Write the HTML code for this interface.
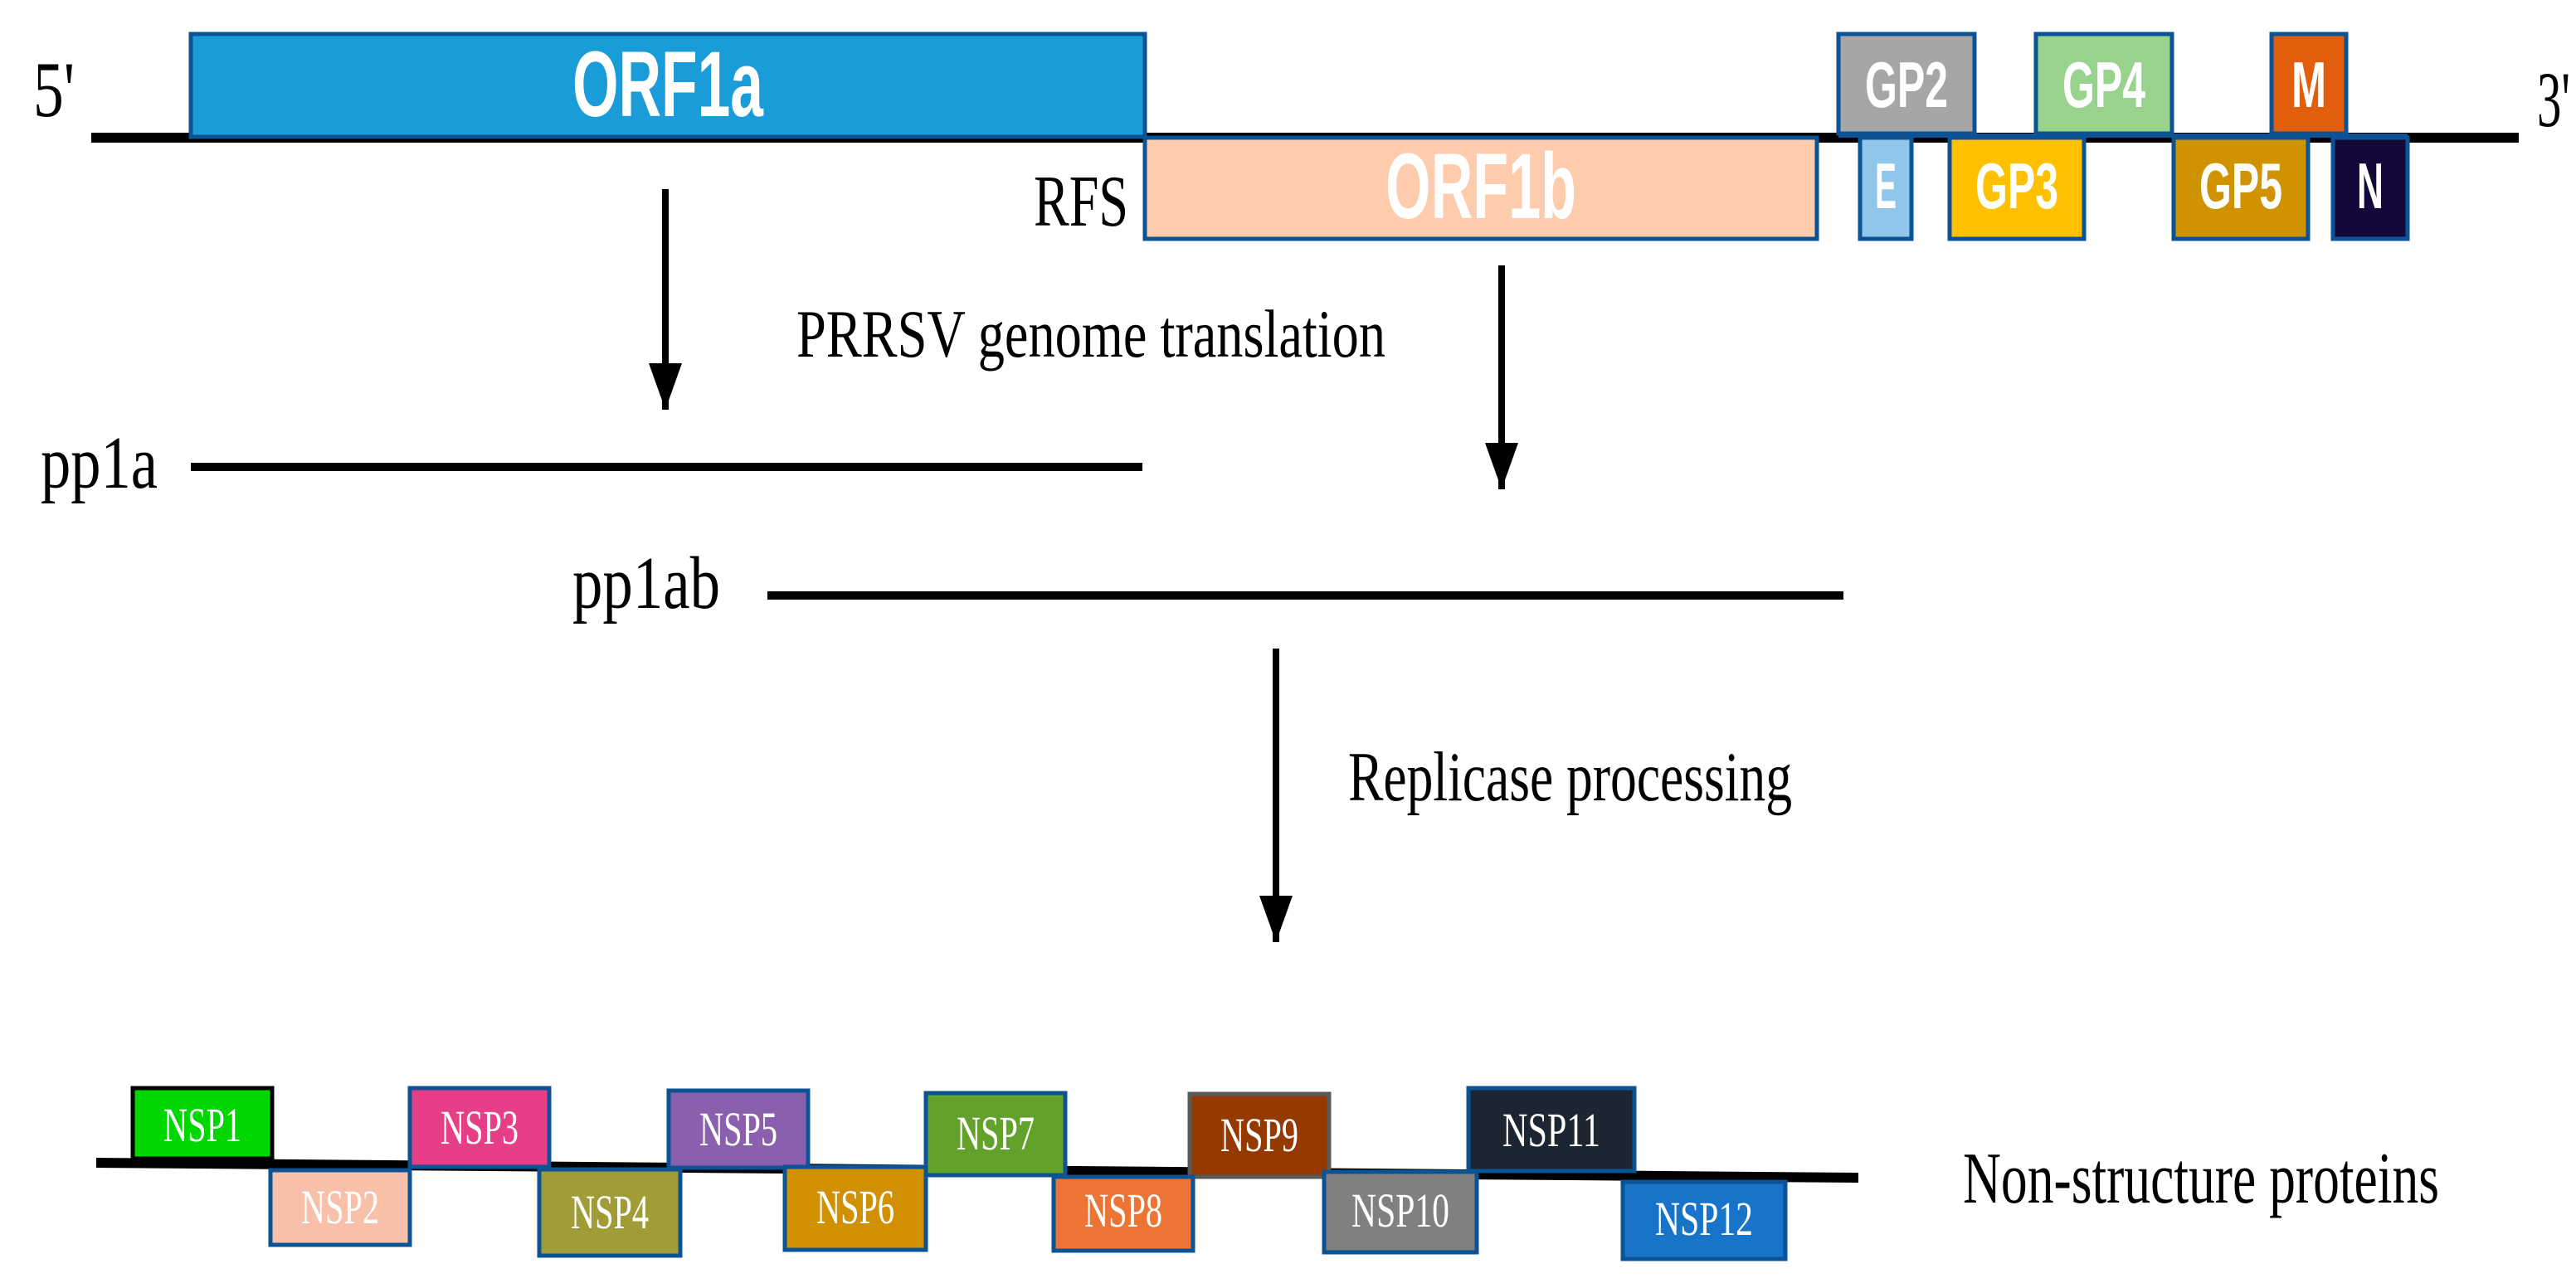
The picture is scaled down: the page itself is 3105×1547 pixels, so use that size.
<!DOCTYPE html>
<html><head><meta charset="utf-8"><style>html,body{margin:0;padding:0;background:#fff}svg{display:block}</style></head>
<body>
<svg width="3105" height="1547" viewBox="0 0 3105 1547" xmlns="http://www.w3.org/2000/svg">
<g font-family="Liberation Serif, serif">
<rect x="110" y="160" width="2926" height="12" fill="#000"/>
<text x="40" y="140" font-size="95" textLength="50" lengthAdjust="spacingAndGlyphs">5'</text>
<text x="3058" y="152" font-size="95" textLength="40" lengthAdjust="spacingAndGlyphs">3'</text>

<g stroke="#0b5394" stroke-width="5">
<rect x="230" y="41" width="1150" height="124" fill="#1a9cd8"/>
<rect x="1380" y="166" width="810" height="122" fill="#fdccac"/>
<rect x="2216" y="41" width="164" height="120" fill="#a6a6a6"/>
<rect x="2454" y="41" width="164" height="120" fill="#99d28c"/>
<rect x="2738" y="41" width="90" height="120" fill="#e05e0c"/>
<rect x="2216" y="161" width="686" height="5" fill="#0b5394" stroke="none"/>
<rect x="2242" y="166" width="62" height="122" fill="#90c6ea"/>
<rect x="2350" y="166" width="162" height="122" fill="#ffc000"/>
<rect x="2620" y="166" width="162" height="122" fill="#cf9200"/>
<rect x="2812" y="166" width="90" height="122" fill="#14083a"/>
</g>
<g font-family="Liberation Sans, sans-serif" font-weight="bold" fill="#fff" text-anchor="middle">
<text x="805" y="140" font-size="112" textLength="230" lengthAdjust="spacingAndGlyphs">ORF1a</text>
<text x="1785" y="263" font-size="112" textLength="230" lengthAdjust="spacingAndGlyphs">ORF1b</text>
<text x="2298" y="129" font-size="78" textLength="100" lengthAdjust="spacingAndGlyphs">GP2</text>
<text x="2536" y="129" font-size="78" textLength="100" lengthAdjust="spacingAndGlyphs">GP4</text>
<text x="2783" y="129" font-size="78" textLength="42" lengthAdjust="spacingAndGlyphs">M</text>
<text x="2273" y="251" font-size="78" textLength="26" lengthAdjust="spacingAndGlyphs">E</text>
<text x="2431" y="251" font-size="78" textLength="100" lengthAdjust="spacingAndGlyphs">GP3</text>
<text x="2701" y="251" font-size="78" textLength="100" lengthAdjust="spacingAndGlyphs">GP5</text>
<text x="2857" y="251" font-size="78" textLength="32" lengthAdjust="spacingAndGlyphs">N</text>
</g>
<text x="1246" y="272" font-size="88" textLength="114" lengthAdjust="spacingAndGlyphs">RFS</text>

<line x1="802" y1="228" x2="802" y2="494" stroke="#000" stroke-width="8"/>
<path d="M782,438 L822,438 L802,494 Z" fill="#000"/>
<line x1="1810" y1="320" x2="1810" y2="590" stroke="#000" stroke-width="8"/>
<path d="M1790,534 L1830,534 L1810,590 Z" fill="#000"/>
<line x1="1538" y1="782" x2="1538" y2="1136" stroke="#000" stroke-width="8"/>
<path d="M1518,1080 L1558,1080 L1538,1136 Z" fill="#000"/>

<text x="960" y="430" font-size="82" textLength="710" lengthAdjust="spacingAndGlyphs">PRRSV genome translation</text>
<text x="49" y="588" font-size="90" textLength="141" lengthAdjust="spacingAndGlyphs">pp1a</text>
<rect x="230" y="558" width="1147" height="10" fill="#000"/>
<text x="690" y="733" font-size="90" textLength="178" lengthAdjust="spacingAndGlyphs">pp1ab</text>
<rect x="925" y="713" width="1297" height="10" fill="#000"/>
<text x="1625" y="965" font-size="85" textLength="535" lengthAdjust="spacingAndGlyphs">Replicase processing</text>

<path d="M116,1396 L2240,1414 L2240,1426 L116,1408 Z" fill="#000"/>
<g stroke="#0b5394" stroke-width="5">
<rect x="160" y="1312" width="168" height="85" fill="#00d700" stroke="#000"/>
<rect x="494" y="1312" width="168" height="95" fill="#e63f87"/>
<rect x="806" y="1315" width="168" height="93" fill="#8a5fae"/>
<rect x="1116" y="1318" width="168" height="99" fill="#62a12a"/>
<rect x="1434" y="1319" width="168" height="100" fill="#943a00" stroke="#595959"/>
<rect x="1770" y="1312" width="200" height="100" fill="#1b2632"/>
<rect x="326" y="1411" width="168" height="90" fill="#f8c0a8"/>
<rect x="650" y="1410" width="170" height="104" fill="#a09c38"/>
<rect x="946" y="1407" width="170" height="100" fill="#d09000"/>
<rect x="1270" y="1419" width="168" height="89" fill="#ec7434"/>
<rect x="1596" y="1413" width="184" height="97" fill="#808080"/>
<rect x="1956" y="1425" width="196" height="93" fill="#1874c8"/>
</g>
<g fill="#fff" text-anchor="middle" font-size="58">
<text x="244" y="1376" textLength="94" lengthAdjust="spacingAndGlyphs">NSP1</text>
<text x="578" y="1379" textLength="94" lengthAdjust="spacingAndGlyphs">NSP3</text>
<text x="890" y="1381" textLength="94" lengthAdjust="spacingAndGlyphs">NSP5</text>
<text x="1200" y="1386" textLength="94" lengthAdjust="spacingAndGlyphs">NSP7</text>
<text x="1518" y="1388" textLength="94" lengthAdjust="spacingAndGlyphs">NSP9</text>
<text x="1870" y="1382" textLength="118" lengthAdjust="spacingAndGlyphs">NSP11</text>
<text x="410" y="1475" textLength="94" lengthAdjust="spacingAndGlyphs">NSP2</text>
<text x="735" y="1481" textLength="94" lengthAdjust="spacingAndGlyphs">NSP4</text>
<text x="1031" y="1475" textLength="94" lengthAdjust="spacingAndGlyphs">NSP6</text>
<text x="1354" y="1479" textLength="94" lengthAdjust="spacingAndGlyphs">NSP8</text>
<text x="1688" y="1479" textLength="118" lengthAdjust="spacingAndGlyphs">NSP10</text>
<text x="2054" y="1489" textLength="118" lengthAdjust="spacingAndGlyphs">NSP12</text>
</g>
<text x="2366" y="1450" font-size="88" textLength="574" lengthAdjust="spacingAndGlyphs">Non-structure proteins</text>
</g>
</svg>
</body></html>
